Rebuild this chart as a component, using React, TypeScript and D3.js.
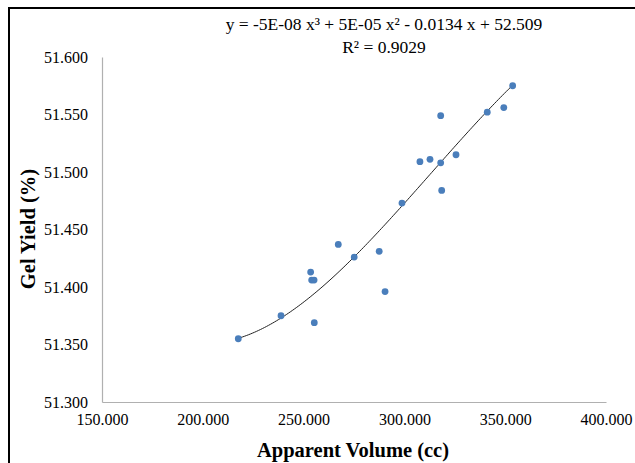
import React, { useRef, useEffect } from "react";
import * as d3 from "d3";

// apparent volume (cc) and gel yield (%)
const volume = [217.6, 238.8, 255.3, 253.5, 254.0, 255.2, 267.2, 275.1, 287.5, 290.4, 298.8, 307.7, 312.7, 318.0, 318.0, 318.5, 325.6, 341.1, 349.3, 353.7];
const gelYield = [51.355, 51.375, 51.369, 51.413, 51.406, 51.406, 51.437, 51.426, 51.431, 51.396, 51.473, 51.509, 51.511, 51.508, 51.549, 51.484, 51.515, 51.552, 51.556, 51.575];

// polynomial trendline y = a x^3 + b x^2 + c x + d (estimated from the drawn curve)
const trendCoef = [-5.328e-8, 5.0e-5, -0.0136587, 52.509];

const xTicks = [150, 200, 250, 300, 350, 400];
const yTicks = [51.3, 51.35, 51.4, 51.45, 51.5, 51.55, 51.6];

const equation = "y = -5E-08 x³ + 5E-05 x² - 0.0134 x + 52.509";
const rSquared = "R² = 0.9029";

function App() {
  const svgRef = useRef<SVGSVGElement>(null);

  useEffect(() => {
    const svg = d3.select(svgRef.current);
    svg.selectAll("*").remove();

    const font = "'Liberation Serif', 'Times New Roman', serif";
    const x = d3.scaleLinear().domain([150, 400]).range([102, 606]);
    const y = d3.scaleLinear().domain([51.3, 51.6]).range([402, 57]);

    svg.append("rect").attr("width", 635).attr("height", 463).attr("fill", "#fff");

    // outer frame (right/bottom run off the picture)
    svg.append("rect")
      .attr("x", 9).attr("y", 8).attr("width", 700).attr("height", 500)
      .attr("fill", "none").attr("stroke", "#000").attr("stroke-width", 2);

    // axes
    const xAxis = d3.axisBottom(x).tickValues(xTicks).tickSize(0).tickPadding(12)
      .tickFormat(d3.format(".3f") as any);
    svg.append("g").attr("transform", `translate(0,${y(51.3)})`).call(xAxis)
      .call(g => g.select(".domain").attr("stroke", "#b0b0b0").attr("stroke-width", 1.2));

    const yAxis = d3.axisLeft(y).tickValues(yTicks).tickSize(0).tickPadding(14)
      .tickFormat(d3.format(".3f") as any);
    svg.append("g").attr("transform", `translate(${x(150)},0)`).call(yAxis)
      .call(g => g.select(".domain").attr("stroke", "#b0b0b0").attr("stroke-width", 1.2));

    svg.selectAll(".tick text")
      .attr("font-family", font).attr("font-size", 16).attr("fill", "#000");

    // trendline
    const [a, b, c, d0] = trendCoef;
    const f = (v: number) => a * v * v * v + b * v * v + c * v + d0;
    const [lo, hi] = d3.extent(volume) as [number, number];
    const xs = d3.range(lo, hi, 1).concat([hi]);
    svg.append("path")
      .datum(xs)
      .attr("fill", "none").attr("stroke", "#222").attr("stroke-width", 1)
      .attr("d", d3.line<number>().x(d => x(d)).y(d => y(f(d))));

    // points
    svg.selectAll(".dot")
      .data(volume)
      .join("circle")
      .attr("class", "dot")
      .attr("cx", d => x(d))
      .attr("cy", (d, i) => y(gelYield[i]))
      .attr("r", 3.4)
      .attr("fill", "#4a7ebb");

    // equation labels
    svg.append("text").attr("x", 384).attr("y", 30).attr("text-anchor", "middle")
      .attr("font-family", font).attr("font-size", 17.5).text(equation);
    svg.append("text").attr("x", 384).attr("y", 53).attr("text-anchor", "middle")
      .attr("font-family", font).attr("font-size", 17.5).text(rSquared);

    // axis titles
    svg.append("text").attr("x", 353).attr("y", 457).attr("text-anchor", "middle")
      .attr("font-family", font).attr("font-size", 20.5).attr("font-weight", "bold")
      .text("Apparent Volume (cc)");
    svg.append("text")
      .attr("transform", `translate(35,229) rotate(-90)`).attr("text-anchor", "middle")
      .attr("font-family", font).attr("font-size", 20.5).attr("font-weight", "bold")
      .text("Gel Yield (%)");
  }, []);

  return (
    <svg ref={svgRef} width={635} height={463}
      style={{ position: "absolute", left: 0, top: 0 }} />
  );
}

export default App;
